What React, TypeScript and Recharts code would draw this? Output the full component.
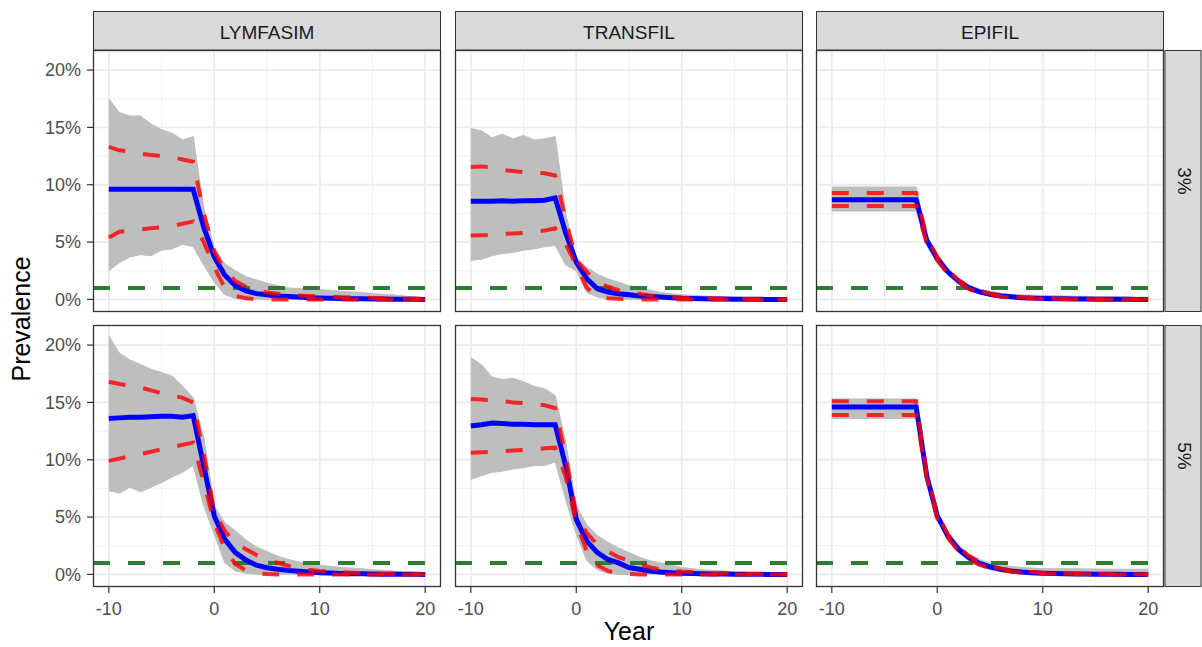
import { ComposedChart, Area, Line, XAxis, YAxis, CartesianGrid, ReferenceLine } from 'recharts';

// model years relative to start of MDA
const years = [-10, -9, -8, -7, -6, -5, -4, -3, -2, -1, 0, 1, 2, 3, 4, 5, 6, 7, 8, 9, 10, 11, 12, 13, 14, 15, 16, 17, 18, 19, 20];

const models = ['LYMFASIM', 'TRANSFIL', 'EPIFIL'];
const baselines = ['3%', '5%'];
const xTicks = [-10, 0, 10, 20];
const yTicks = [0, 5, 10, 15, 20];
const xMinor = [-5, 5, 15];
const yMinor = [2.5, 7.5, 12.5, 17.5];
const threshold = 1;

// LYMFASIM, 3%
const lym3Mean = [9.6, 9.6, 9.6, 9.6, 9.6, 9.6, 9.6, 9.6, 9.6, 6.3, 3.7, 2.1, 1.2, 0.75, 0.5, 0.4, 0.3, 0.25, 0.2, 0.15, 0.12, 0.1, 0.08, 0.06, 0.05, 0.04, 0.03, 0.02, 0.01, 0.01, 0];
const lym3Hi = [13.3, 13.0, 12.9, 12.7, 12.6, 12.5, 12.4, 12.2, 12.0, 7.5, 4.2, 2.5, 1.6, 1.1, 0.8, 0.6, 0.5, 0.4, 0.35, 0.3, 0.3, 0.25, 0.2, 0.18, 0.15, 0.12, 0.1, 0.08, 0.06, 0.05, 0.05];
const lym3Lo = [5.4, 5.9, 6.0, 6.1, 6.2, 6.3, 6.4, 6.6, 6.8, 5.0, 2.8, 1.0, 0.3, 0.1, 0, 0, 0, 0, 0, 0, 0, 0, 0, 0, 0, 0, 0, 0, 0, 0, 0];
const lym3Max = [17.5, 16.3, 16.0, 16.0, 15.3, 14.8, 14.5, 13.9, 14.2, 8.0, 4.5, 3.1, 2.5, 2.0, 1.7, 1.4, 1.2, 1.0, 0.95, 0.9, 0.85, 0.8, 0.7, 0.65, 0.6, 0.5, 0.45, 0.4, 0.3, 0.2, 0.15];
const lym3Min = [2.5, 3.2, 3.7, 3.9, 3.8, 4.3, 4.4, 4.8, 4.6, 3.0, 1.5, 0.4, 0.1, 0, 0, 0, 0, 0, 0, 0, 0, 0, 0, 0, 0, 0, 0, 0, 0, 0, 0];

// TRANSFIL, 3%
const tra3Mean = [8.55, 8.55, 8.55, 8.6, 8.55, 8.6, 8.6, 8.65, 8.85, 5.8, 3.25, 1.8, 0.93, 0.64, 0.5, 0.4, 0.3, 0.25, 0.2, 0.15, 0.1, 0.08, 0.05, 0.04, 0.03, 0.02, 0.01, 0.01, 0, 0, 0];
const tra3Hi = [11.55, 11.6, 11.5, 11.3, 11.2, 11.1, 11.05, 11.0, 10.8, 7.0, 3.4, 2.4, 1.5, 1.1, 0.8, 0.6, 0.5, 0.35, 0.25, 0.2, 0.15, 0.12, 0.1, 0.08, 0.06, 0.05, 0.03, 0.02, 0.01, 0, 0];
const tra3Lo = [5.58, 5.6, 5.6, 5.7, 5.75, 5.8, 5.9, 6.0, 6.2, 4.8, 3.0, 1.0, 0.3, 0.1, 0.05, 0, 0, 0, 0, 0, 0, 0, 0, 0, 0, 0, 0, 0, 0, 0, 0];
const tra3Max = [14.9, 14.7, 14.1, 14.4, 14.0, 14.3, 13.9, 14.0, 14.2, 7.5, 3.6, 2.8, 2.2, 1.8, 1.5, 1.2, 1.0, 0.8, 0.6, 0.5, 0.4, 0.35, 0.3, 0.25, 0.2, 0.2, 0.15, 0.1, 0.08, 0.06, 0.05];
const tra3Min = [3.4, 3.5, 3.8, 4.0, 4.1, 4.3, 4.4, 4.6, 4.7, 3.0, 2.5, 0.6, 0.2, 0.05, 0, 0, 0, 0, 0, 0, 0, 0, 0, 0, 0, 0, 0, 0, 0, 0, 0];

// EPIFIL, 3%
const epi3Mean = [8.7, 8.7, 8.7, 8.7, 8.7, 8.7, 8.7, 8.7, 8.7, 5.15, 3.55, 2.4, 1.6, 1.0, 0.65, 0.45, 0.3, 0.22, 0.15, 0.11, 0.08, 0.06, 0.05, 0.04, 0.03, 0.02, 0.02, 0.01, 0.01, 0, 0];
const epi3Hi = [9.27, 9.27, 9.27, 9.27, 9.27, 9.27, 9.27, 9.27, 9.27, 5.4, 3.7, 2.55, 1.7, 1.1, 0.75, 0.5, 0.35, 0.25, 0.18, 0.14, 0.1, 0.08, 0.06, 0.05, 0.04, 0.03, 0.03, 0.02, 0.02, 0.02, 0.02];
const epi3Lo = [8.15, 8.15, 8.15, 8.15, 8.15, 8.15, 8.15, 8.15, 8.15, 4.9, 3.4, 2.25, 1.5, 0.9, 0.55, 0.38, 0.25, 0.15, 0.1, 0.07, 0.05, 0.03, 0.02, 0.01, 0.01, 0, 0, 0, 0, 0, 0];
const epi3Max = [9.8, 9.8, 9.8, 9.8, 9.8, 9.8, 9.8, 9.8, 9.8, 5.6, 3.9, 2.7, 1.85, 1.25, 0.9, 0.7, 0.55, 0.45, 0.4, 0.37, 0.35, 0.32, 0.3, 0.28, 0.26, 0.25, 0.23, 0.22, 0.21, 0.2, 0.2];
const epi3Min = [7.7, 7.7, 7.7, 7.7, 7.7, 7.7, 7.7, 7.7, 7.7, 4.7, 3.2, 2.1, 1.35, 0.8, 0.5, 0.3, 0.18, 0.1, 0.05, 0.03, 0.02, 0, 0, 0, 0, 0, 0, 0, 0, 0, 0];

// LYMFASIM, 5%
const lym5Mean = [13.6, 13.65, 13.7, 13.7, 13.75, 13.8, 13.8, 13.7, 13.85, 9.45, 5.1, 3.05, 1.9, 1.25, 0.8, 0.58, 0.45, 0.35, 0.28, 0.2, 0.15, 0.12, 0.08, 0.06, 0.05, 0.03, 0.02, 0.02, 0.01, 0.01, 0];
const lym5Hi = [16.8, 16.6, 16.45, 16.3, 16.05, 15.8, 15.6, 15.4, 15.0, 10.5, 5.5, 3.8, 2.7, 2.2, 1.7, 1.3, 1.0, 0.75, 0.55, 0.4, 0.3, 0.25, 0.2, 0.15, 0.12, 0.08, 0.06, 0.05, 0.03, 0.02, 0.01];
const lym5Lo = [9.9, 10.1, 10.3, 10.5, 10.7, 10.9, 11.1, 11.3, 11.5, 8.0, 4.5, 2.2, 0.9, 0.35, 0.1, 0.03, 0, 0, 0, 0, 0, 0, 0, 0, 0, 0, 0, 0, 0, 0, 0];
const lym5Max = [20.8, 19.3, 18.7, 18.3, 17.9, 17.6, 17.3, 16.4, 15.4, 12.0, 6.0, 4.5, 3.8, 3.0, 2.4, 2.0, 1.6, 1.3, 1.1, 0.9, 0.8, 0.7, 0.6, 0.55, 0.5, 0.4, 0.35, 0.3, 0.2, 0.18, 0.15];
const lym5Min = [7.3, 7.1, 7.6, 7.2, 7.6, 8.0, 8.5, 8.9, 9.5, 6.0, 3.5, 1.0, 0.3, 0.1, 0, 0, 0, 0, 0, 0, 0, 0, 0, 0, 0, 0, 0, 0, 0, 0, 0];

// TRANSFIL, 5%
const tra5Mean = [12.95, 13.05, 13.2, 13.15, 13.1, 13.1, 13.05, 13.05, 13.05, 9.45, 4.8, 2.9, 1.9, 1.3, 1.0, 0.6, 0.45, 0.3, 0.2, 0.15, 0.1, 0.08, 0.05, 0.04, 0.03, 0.02, 0.01, 0.01, 0, 0, 0];
const tra5Hi = [15.3, 15.25, 15.2, 15.1, 15.0, 14.95, 14.85, 14.75, 14.5, 10.3, 5.2, 3.6, 2.6, 2.0, 1.5, 1.2, 0.9, 0.6, 0.45, 0.35, 0.25, 0.2, 0.15, 0.1, 0.08, 0.05, 0.04, 0.03, 0.02, 0.01, 0];
const tra5Lo = [10.6, 10.65, 10.7, 10.75, 10.8, 10.85, 10.9, 11.0, 11.05, 8.5, 4.5, 2.0, 0.8, 0.3, 0.1, 0.03, 0, 0, 0, 0, 0, 0, 0, 0, 0, 0, 0, 0, 0, 0, 0];
const tra5Max = [18.9, 18.3, 17.2, 17.0, 17.1, 16.8, 16.4, 16.2, 15.6, 11.5, 6.0, 4.3, 3.4, 2.8, 2.3, 1.9, 1.5, 1.2, 1.0, 0.8, 0.6, 0.5, 0.4, 0.35, 0.3, 0.2, 0.18, 0.15, 0.1, 0.08, 0.05];
const tra5Min = [8.3, 8.6, 8.9, 9.0, 9.2, 9.3, 9.5, 9.5, 9.8, 6.5, 3.5, 1.2, 0.4, 0.1, 0, 0, 0, 0, 0, 0, 0, 0, 0, 0, 0, 0, 0, 0, 0, 0, 0];

// EPIFIL, 5%
const epi5Mean = [14.6, 14.6, 14.6, 14.6, 14.6, 14.6, 14.6, 14.6, 14.6, 8.6, 5.1, 3.35, 2.2, 1.45, 0.95, 0.65, 0.45, 0.3, 0.2, 0.15, 0.1, 0.07, 0.05, 0.04, 0.03, 0.02, 0.01, 0.01, 0, 0, 0];
const epi5Hi = [15.1, 15.1, 15.1, 15.1, 15.1, 15.1, 15.1, 15.1, 15.1, 8.8, 5.3, 3.5, 2.35, 1.6, 1.1, 0.75, 0.5, 0.35, 0.25, 0.2, 0.15, 0.12, 0.08, 0.06, 0.05, 0.04, 0.03, 0.02, 0.02, 0.02, 0.02];
const epi5Lo = [13.9, 13.9, 13.9, 13.9, 13.9, 13.9, 13.9, 13.9, 13.9, 8.4, 4.9, 3.2, 2.05, 1.3, 0.85, 0.55, 0.38, 0.25, 0.15, 0.1, 0.07, 0.05, 0.03, 0.02, 0.01, 0, 0, 0, 0, 0, 0];
const epi5Max = [15.3, 15.3, 15.3, 15.3, 15.3, 15.3, 15.3, 15.3, 15.3, 9.0, 5.5, 3.7, 2.6, 1.8, 1.3, 1.0, 0.8, 0.7, 0.6, 0.55, 0.5, 0.5, 0.5, 0.5, 0.48, 0.47, 0.46, 0.45, 0.45, 0.45, 0.45];
const epi5Min = [13.6, 13.6, 13.6, 13.6, 13.6, 13.6, 13.6, 13.6, 13.6, 8.2, 4.8, 3.0, 1.9, 1.2, 0.7, 0.4, 0.25, 0.15, 0.1, 0.06, 0.03, 0.02, 0, 0, 0, 0, 0, 0, 0, 0, 0];

type Series = { mean: number[]; hi: number[]; lo: number[]; max: number[]; min: number[] };

const grid: Series[][] = [
  [
    { mean: lym3Mean, hi: lym3Hi, lo: lym3Lo, max: lym3Max, min: lym3Min },
    { mean: tra3Mean, hi: tra3Hi, lo: tra3Lo, max: tra3Max, min: tra3Min },
    { mean: epi3Mean, hi: epi3Hi, lo: epi3Lo, max: epi3Max, min: epi3Min },
  ],
  [
    { mean: lym5Mean, hi: lym5Hi, lo: lym5Lo, max: lym5Max, min: lym5Min },
    { mean: tra5Mean, hi: tra5Hi, lo: tra5Lo, max: tra5Max, min: tra5Min },
    { mean: epi5Mean, hi: epi5Hi, lo: epi5Lo, max: epi5Max, min: epi5Min },
  ],
];

const FONT = '"Liberation Sans", Arial, sans-serif';
const COL_LEFT = [93, 455, 816];
const ROW_TOP = [50, 325];
const PW = 348;
const PH = 262;
const Y_AXIS_W = 93;
const X_AXIS_H = 40;
const DASH = '17 18';

function Panel({ s, row, col }: { s: Series; row: number; col: number }) {
  const data = years.map((year, i) => ({
    year,
    mean: s.mean[i],
    hi: s.hi[i],
    lo: s.lo[i],
    band: [s.min[i], s.max[i]],
  }));
  const showY = col === 0;
  const showX = row === 1;
  const yw = showY ? Y_AXIS_W : 0;
  const xh = showX ? X_AXIS_H : 0;
  return (
    <div style={{ position: 'absolute', left: COL_LEFT[col] - yw, top: ROW_TOP[row] }}>
      <ComposedChart width={PW + yw} height={PH + xh} data={data} margin={{ top: 0, right: 0, bottom: 0, left: 0 }}>
        <CartesianGrid stroke="#EEEEEE" strokeWidth={0.9} horizontalValues={yMinor} verticalValues={xMinor} />
        <CartesianGrid stroke="#EBEBEB" strokeWidth={1.8} horizontalValues={yTicks} verticalValues={xTicks} />
        <XAxis
          type="number"
          dataKey="year"
          domain={[-11.5, 21.5]}
          allowDataOverflow
          ticks={xTicks}
          hide={!showX}
          height={X_AXIS_H}
          axisLine={false}
          tickLine={{ stroke: '#333333', strokeWidth: 1.2 }}
          tickSize={6}
          tickMargin={9}
          tick={{ fill: '#4D4D4D', fontSize: 18, fontFamily: FONT }}
          interval={0}
        />
        <YAxis
          type="number"
          domain={[-1.1, 21.75]}
          allowDataOverflow
          ticks={yTicks}
          hide={!showY}
          width={Y_AXIS_W}
          axisLine={false}
          tickLine={{ stroke: '#333333', strokeWidth: 1.2 }}
          tickSize={6}
          tickMargin={6}
          tick={{ fill: '#4D4D4D', fontSize: 18, fontFamily: FONT }}
          tickFormatter={(v) => `${v}%`}
          interval={0}
        />
        <Area
          type="linear"
          dataKey="band"
          fill="#BEBEBE"
          fillOpacity={1}
          stroke="#BEBEBE"
          strokeWidth={1}
          isAnimationActive={false}
        />
        <ReferenceLine y={threshold} stroke="#2F7D32" strokeWidth={4} strokeDasharray={DASH} />
        <Line type="linear" dataKey="mean" stroke="#0000FF" strokeWidth={5} dot={false} isAnimationActive={false} />
        <Line type="linear" dataKey="hi" stroke="#FF0000" strokeOpacity={0.8} strokeWidth={4} strokeDasharray={DASH} dot={false} isAnimationActive={false} />
        <Line type="linear" dataKey="lo" stroke="#FF0000" strokeOpacity={0.8} strokeWidth={4} strokeDasharray={DASH} dot={false} isAnimationActive={false} />
      </ComposedChart>
    </div>
  );
}

export default function App() {
  return (
    <div style={{ position: 'absolute', left: 0, top: 0, width: 1202, height: 647, background: '#fff', overflow: 'hidden', fontFamily: FONT }}>
      {grid.map((cells, r) => cells.map((s, c) => <Panel key={`${r}-${c}`} s={s} row={r} col={c} />))}
      <svg width={1202} height={647} style={{ position: 'absolute', left: 0, top: 0, pointerEvents: 'none' }}>
        {ROW_TOP.map((top) =>
          COL_LEFT.map((left) => (
            <rect key={`b-${top}-${left}`} x={left + 0.5} y={top + 0.5} width={PW - 1} height={PH - 1} fill="none" stroke="#333333" strokeWidth={1.3} />
          ))
        )}
        {models.map((m, c) => (
          <g key={m}>
            <rect x={COL_LEFT[c] + 0.5} y={11.5} width={PW - 1} height={ROW_TOP[0] - 11.5} fill="#D9D9D9" stroke="#333333" strokeWidth={1} />
            <text x={COL_LEFT[c] + PW / 2} y={38.5} textAnchor="middle" fontSize={19} fill="#1A1A1A" fontFamily={FONT}>
              {m}
            </text>
          </g>
        ))}
        {baselines.map((b, r) => (
          <g key={b}>
            <rect x={1165} y={ROW_TOP[r] + 0.5} width={36} height={PH - 1} fill="#D9D9D9" stroke="#333333" strokeWidth={1} />
            <text transform={`translate(1177.5, ${ROW_TOP[r] + PH / 2}) rotate(90)`} textAnchor="middle" fontSize={19} fill="#1A1A1A" fontFamily={FONT}>
              {b}
            </text>
          </g>
        ))}
        <text transform="translate(30, 319) rotate(-90)" textAnchor="middle" fontSize={25} fill="#000" fontFamily={FONT}>
          Prevalence
        </text>
        <text x={629} y={640} textAnchor="middle" fontSize={25} fill="#000" fontFamily={FONT}>
          Year
        </text>
      </svg>
    </div>
  );
}
